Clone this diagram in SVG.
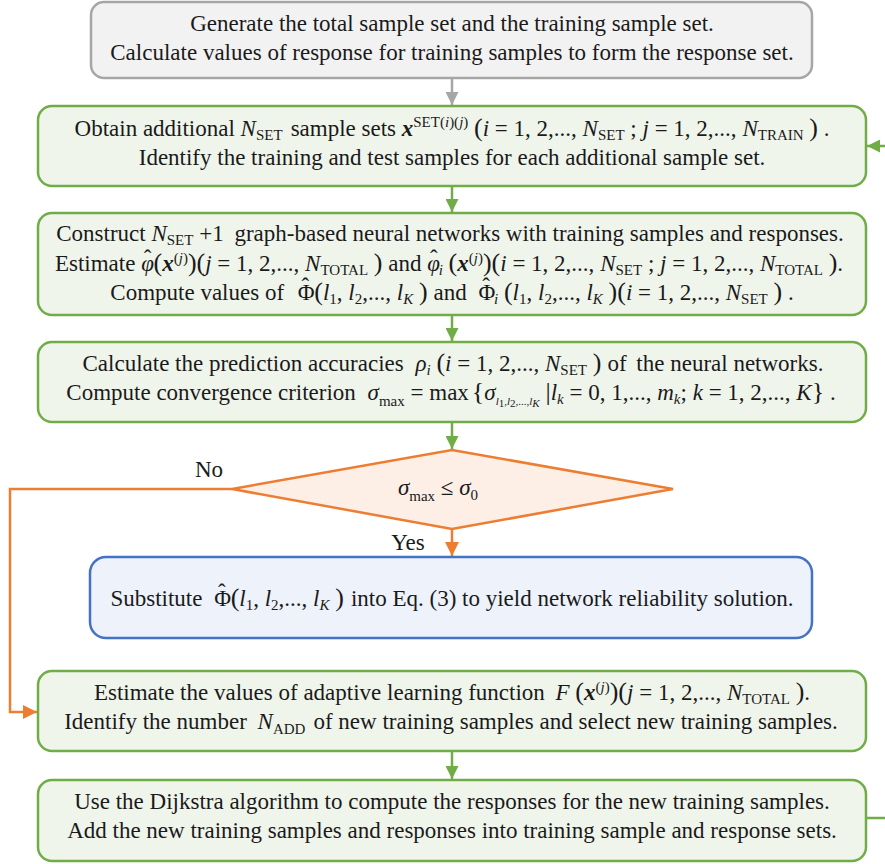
<svg xmlns="http://www.w3.org/2000/svg" width="885" height="864" viewBox="0 0 885 864">
<style>
.t{font-family:"Liberation Serif","Times New Roman",serif;font-size:23px;fill:#1a1a1a;text-anchor:middle}
.i{font-style:italic}
.b{font-style:italic;font-weight:bold}
.s{font-size:15px}
.ss{font-size:11px}
.p{font-size:26px}
.green{fill:#f0f5ec;stroke:#70ad47;stroke-width:2.5}
.gray{fill:#f2f2f2;stroke:#a6a6a6;stroke-width:2.5}
.blue{fill:#edf2fb;stroke:#4472c4;stroke-width:2.5}
.dia{fill:#fdefe5;stroke:#ed7d31;stroke-width:2.5}
.cg{stroke:#70ad47;stroke-width:2.5;fill:none}
.cgr{stroke:#a6a6a6;stroke-width:2.5;fill:none}
.co{stroke:#ed7d31;stroke-width:2.5;fill:none}
</style>
<defs>
<marker id="ag" viewBox="0 0 12 12" refX="12" refY="6" markerWidth="13" markerHeight="13" markerUnits="userSpaceOnUse" orient="auto"><path d="M0,0 L12,6 L0,12 Z" fill="#70ad47"/></marker>
<marker id="agr" viewBox="0 0 12 12" refX="12" refY="6" markerWidth="13" markerHeight="13" markerUnits="userSpaceOnUse" orient="auto"><path d="M0,0 L12,6 L0,12 Z" fill="#a6a6a6"/></marker>
<marker id="ao" viewBox="0 0 12 12" refX="12" refY="6" markerWidth="14" markerHeight="14" markerUnits="userSpaceOnUse" orient="auto"><path d="M0,0 L12,6 L0,12 Z" fill="#ed7d31"/></marker>
</defs>

<g id="connectors">
<line class="cgr" x1="452" y1="78" x2="452" y2="105" marker-end="url(#agr)"/>
<line class="cg" x1="452" y1="186" x2="452" y2="212" marker-end="url(#ag)"/>
<line class="cg" x1="452" y1="315" x2="452" y2="341" marker-end="url(#ag)"/>
<line class="cg" x1="452" y1="422" x2="452" y2="449" marker-end="url(#ag)"/>
<line class="co" x1="452" y1="529" x2="452" y2="556" marker-end="url(#ao)"/>
<path class="co" d="M232,489 H10 V712 H37" marker-end="url(#ao)"/>
<line class="cg" x1="452" y1="751" x2="452" y2="779" marker-end="url(#ag)"/>
<path class="cg" d="M866,818 H892 V146 H867" marker-end="url(#ag)"/>
</g>

<g id="n1">
<rect class="gray" x="91" y="2" width="721" height="76" rx="13"/>
<text class="t" x="452" y="31">Generate the total sample set and the training sample set.</text>
<text class="t" x="452" y="60">Calculate values of response for training samples to form the response set.</text>
</g>

<g id="n2">
<rect class="green" x="38" y="106" width="828" height="80" rx="14"/>
<text class="t" x="452" y="136">Obtain additional <tspan class="i">N</tspan><tspan class="s" dy="4">SET</tspan><tspan dy="-4" dx="8">sample sets </tspan><tspan class="b">x</tspan><tspan class="s" dy="-9">SET(<tspan class="i">i</tspan>)(<tspan class="i">j</tspan>)</tspan><tspan dy="9"> </tspan><tspan class="p">(</tspan><tspan class="i">i</tspan> = 1, 2,..., <tspan class="i">N</tspan><tspan class="s" dy="4">SET</tspan><tspan dy="-4"> ; </tspan><tspan class="i">j</tspan> = 1, 2,..., <tspan class="i">N</tspan><tspan class="s" dy="4">TRAIN</tspan><tspan dy="-4"> </tspan><tspan class="p">)</tspan> .</text>
<text class="t" x="452" y="165">Identify the training and test samples for each additional sample set.</text>
</g>

<g id="n3">
<rect class="green" x="38" y="213" width="828" height="102" rx="14"/>
<text class="t" x="450" y="241">Construct <tspan class="i">N</tspan><tspan class="s" dy="4">SET</tspan><tspan dy="-4"> +1 </tspan><tspan dx="5">graph-based neural networks with training samples and responses.</tspan></text>
<text class="t" x="449" y="271">Estimate <tspan class="i">φ</tspan><tspan dx="-10" dy="-5">ˆ</tspan><tspan class="p" dx="2" dy="5">(</tspan><tspan class="b">x</tspan><tspan class="s" dy="-8">(<tspan class="i">j</tspan>)</tspan><tspan class="p" dy="8">)(</tspan><tspan class="i">j</tspan> = 1, 2,..., <tspan class="i">N</tspan><tspan class="s" dy="4">TOTAL</tspan><tspan dy="-4"> </tspan><tspan class="p">)</tspan> and <tspan class="i">φ</tspan><tspan dx="-10" dy="-5">ˆ</tspan><tspan class="s i" dx="1" dy="9">i</tspan><tspan dy="-4"> </tspan><tspan class="p">(</tspan><tspan class="b">x</tspan><tspan class="s" dy="-8">(<tspan class="i">j</tspan>)</tspan><tspan class="p" dy="8">)(</tspan><tspan class="i">i</tspan> = 1, 2,..., <tspan class="i">N</tspan><tspan class="s" dy="4">SET</tspan><tspan dy="-4"> ; </tspan><tspan class="i">j</tspan> = 1, 2,..., <tspan class="i">N</tspan><tspan class="s" dy="4">TOTAL</tspan><tspan dy="-4"> </tspan><tspan class="p">)</tspan>.</text>
<text class="t" x="452" y="300">Compute values of <tspan dx="8">Φ</tspan><tspan dx="-13" dy="-6">ˆ</tspan><tspan class="p" dx="5" dy="6">(</tspan><tspan class="i">l</tspan><tspan class="s" dy="4">1</tspan><tspan dy="-4">, </tspan><tspan class="i">l</tspan><tspan class="s" dy="4">2</tspan><tspan dy="-4">,..., </tspan><tspan class="i">l</tspan><tspan class="s i" dy="4">K</tspan><tspan dy="-4"> </tspan><tspan class="p">)</tspan><tspan dx="6">and</tspan><tspan dx="6"> Φ</tspan><tspan dx="-13" dy="-6">ˆ</tspan><tspan class="s i" dx="4" dy="10">i</tspan><tspan dy="-4"> </tspan><tspan class="p">(</tspan><tspan class="i">l</tspan><tspan class="s" dy="4">1</tspan><tspan dy="-4">, </tspan><tspan class="i">l</tspan><tspan class="s" dy="4">2</tspan><tspan dy="-4">,..., </tspan><tspan class="i">l</tspan><tspan class="s i" dy="4">K</tspan><tspan dy="-4"> </tspan><tspan class="p">)(</tspan><tspan class="i">i</tspan> = 1, 2,..., <tspan class="i">N</tspan><tspan class="s" dy="4">SET</tspan><tspan dy="-4"> </tspan><tspan class="p">)</tspan> .</text>
</g>

<g id="n4">
<rect class="green" x="38" y="342" width="828" height="80" rx="14"/>
<text class="t" x="453" y="371">Calculate the prediction accuracies <tspan class="i" dx="6">ρ</tspan><tspan class="s i" dy="4">i</tspan><tspan dy="-4"> </tspan><tspan class="p">(</tspan><tspan class="i">i</tspan> = 1, 2,..., <tspan class="i">N</tspan><tspan class="s" dy="4">SET</tspan><tspan dy="-4"> </tspan><tspan class="p">)</tspan><tspan dx="6">of </tspan><tspan dx="4">the neural networks.</tspan></text>
<text class="t" x="451" y="400">Compute convergence criterion <tspan class="i" dx="6">σ</tspan><tspan class="s" dy="6">max</tspan><tspan dy="-6"> = max</tspan><tspan class="p" dx="3">{</tspan><tspan class="i">σ</tspan><tspan class="ss i" dy="5">l</tspan><tspan class="ss" dy="2">1</tspan><tspan class="ss" dy="-2">,</tspan><tspan class="ss i">l</tspan><tspan class="ss" dy="2">2</tspan><tspan class="ss" dy="-2">,...,</tspan><tspan class="ss i">l</tspan><tspan class="ss i" dy="2">K</tspan><tspan dy="-7"> </tspan><tspan class="p">|</tspan><tspan class="i">l</tspan><tspan class="s i" dy="4">k</tspan><tspan dy="-4"> = 0, 1,..., </tspan><tspan class="i">m</tspan><tspan class="s i" dy="4">k</tspan><tspan dy="-4">; </tspan><tspan class="i">k</tspan> = 1, 2,..., <tspan class="i">K</tspan><tspan class="p">}</tspan> .</text>
</g>

<g id="n5">
<polygon class="dia" points="452,450 673,489 452,529 232,489"/>
<text class="t" x="438" y="495"><tspan class="i">σ</tspan><tspan class="s" dy="6">max</tspan><tspan dy="-6"> ≤ </tspan><tspan class="i">σ</tspan><tspan class="s" dy="5">0</tspan></text>
<text class="t" x="209" y="477">No</text>
<text class="t" x="408" y="550">Yes</text>
</g>

<g id="n6">
<rect class="blue" x="90" y="557" width="722" height="81" rx="16"/>
<text class="t" x="452" y="606">Substitute <tspan dx="6">Φ</tspan><tspan dx="-13" dy="-6">ˆ</tspan><tspan class="p" dx="5" dy="6">(</tspan><tspan class="i">l</tspan><tspan class="s" dy="4">1</tspan><tspan dy="-4">, </tspan><tspan class="i">l</tspan><tspan class="s" dy="4">2</tspan><tspan dy="-4">,..., </tspan><tspan class="i">l</tspan><tspan class="s i" dy="4">K</tspan><tspan dy="-4"> </tspan><tspan class="p">)</tspan><tspan dx="7">into Eq. (3) to yield network reliability solution.</tspan></text>
</g>

<g id="n7">
<rect class="green" x="38" y="671" width="828" height="80" rx="14"/>
<text class="t" x="452" y="700">Estimate the values of adaptive learning function <tspan class="i" dx="5">F</tspan> <tspan class="p">(</tspan><tspan class="b">x</tspan><tspan class="s" dy="-8">(<tspan class="i">j</tspan>)</tspan><tspan class="p" dy="8">)(</tspan><tspan class="i">j</tspan> = 1, 2,..., <tspan class="i">N</tspan><tspan class="s" dy="4">TOTAL</tspan><tspan dy="-4"> </tspan><tspan class="p">)</tspan>.</text>
<text class="t" x="451" y="729">Identify the number <tspan class="i" dx="5">N</tspan><tspan class="s" dy="5">ADD</tspan><tspan dy="-5" dx="8">of new training samples and select new training samples.</tspan></text>
</g>

<g id="n8">
<rect class="green" x="38" y="780" width="828" height="81" rx="14"/>
<text class="t" x="452" y="809">Use the Dijkstra algorithm to compute the responses for the new training samples.</text>
<text class="t" x="452" y="838">Add the new training samples and responses into training sample and response sets.</text>
</g>
</svg>
